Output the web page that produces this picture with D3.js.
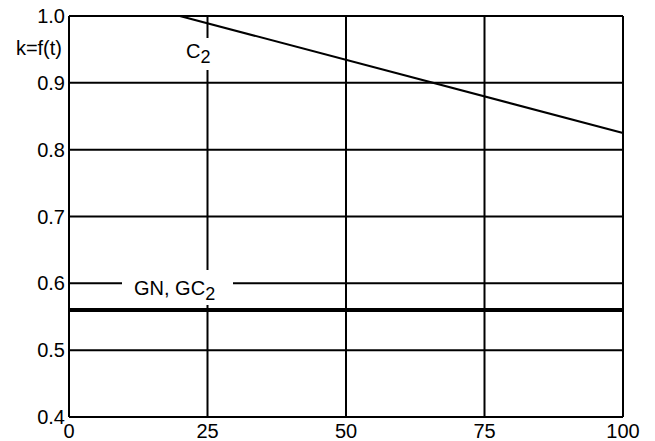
<!DOCTYPE html>
<html>
<head>
<meta charset="utf-8">
<script src="https://cdn.jsdelivr.net/npm/d3@7"></script>
<style>
    body { margin: 0; background: #fff; }
    svg { display: block; font-family: "Liberation Sans", Arial, sans-serif; }
</style>
</head>
<body>
<svg id="chart" width="655" height="441"></svg>
<script>
// values
const xTicks = [0, 25, 50, 75, 100];
const yTicks = [0.4, 0.5, 0.6, 0.7, 0.8, 0.9, 1.0];
const c2T = [20, 100];
const c2K = [1.0, 0.825];
const gnT = [0, 100];
const gnK = [0.56, 0.56];
const yTitle = "k=f(t)";

const svg = d3.select("#chart");
const margin = { top: 16, right: 32, bottom: 24, left: 69 };
const W = 655, H = 441;
const fs = 20;

const x = d3.scaleLinear().domain([0, 100]).range([margin.left, W - margin.right]);
const y = d3.scaleLinear().domain([0.4, 1.0]).range([H - margin.bottom, margin.top]);

// grid
svg.append("g")
    .selectAll("line.h")
    .data(yTicks)
    .enter()
    .append("line")
    .attr("x1", x(0)).attr("x2", x(100))
    .attr("y1", d => y(d)).attr("y2", d => y(d))
    .attr("stroke", "black")
    .attr("stroke-width", 2);

svg.append("g")
    .selectAll("line.v")
    .data(xTicks)
    .enter()
    .append("line")
    .attr("x1", d => x(d)).attr("x2", d => x(d))
    .attr("y1", y(0.4)).attr("y2", y(1.0))
    .attr("stroke", "black")
    .attr("stroke-width", 2);

// tick labels
svg.append("g")
    .selectAll("text")
    .data(yTicks)
    .enter()
    .append("text")
    .attr("x", x(0) - 4)
    .attr("y", d => y(d))
    .attr("dy", "0.35em")
    .attr("text-anchor", "end")
    .attr("font-size", fs)
    .text(d => d.toFixed(1));

svg.append("g")
    .selectAll("text")
    .data(xTicks)
    .enter()
    .append("text")
    .attr("x", d => x(d))
    .attr("y", y(0.4) + 21)
    .attr("text-anchor", "middle")
    .attr("font-size", fs)
    .text(d => d);

svg.append("text")
    .attr("x", 62)
    .attr("y", 48)
    .attr("dy", "0.35em")
    .attr("text-anchor", "end")
    .attr("font-size", fs)
    .text(yTitle);

// curves
const line = d3.line().x(d => x(d[0])).y(d => y(d[1]));

svg.append("path")
    .datum(d3.zip(c2T, c2K))
    .attr("d", line)
    .attr("fill", "none")
    .attr("stroke", "black")
    .attr("stroke-width", 2);

svg.append("path")
    .datum(d3.zip(gnT, gnK))
    .attr("d", line)
    .attr("fill", "none")
    .attr("stroke", "black")
    .attr("stroke-width", 4);

// labels with white backing
function label(bx, by, w, h, main, sub, tx, ty) {
    svg.append("rect")
        .attr("x", bx).attr("y", by)
        .attr("width", w).attr("height", h)
        .attr("fill", "white");
    const t = svg.append("text")
        .attr("x", tx).attr("y", ty)
        .attr("font-size", fs);
    t.append("tspan").text(main);
    t.append("tspan").attr("dy", 5).attr("font-size", fs - 2).text(sub);
}

label(180, 38, 34, 32, "C", "2", 186, 58);
label(122, 270, 111, 35, "GN, GC", "2", 134, 295);
</script>
</body>
</html>
